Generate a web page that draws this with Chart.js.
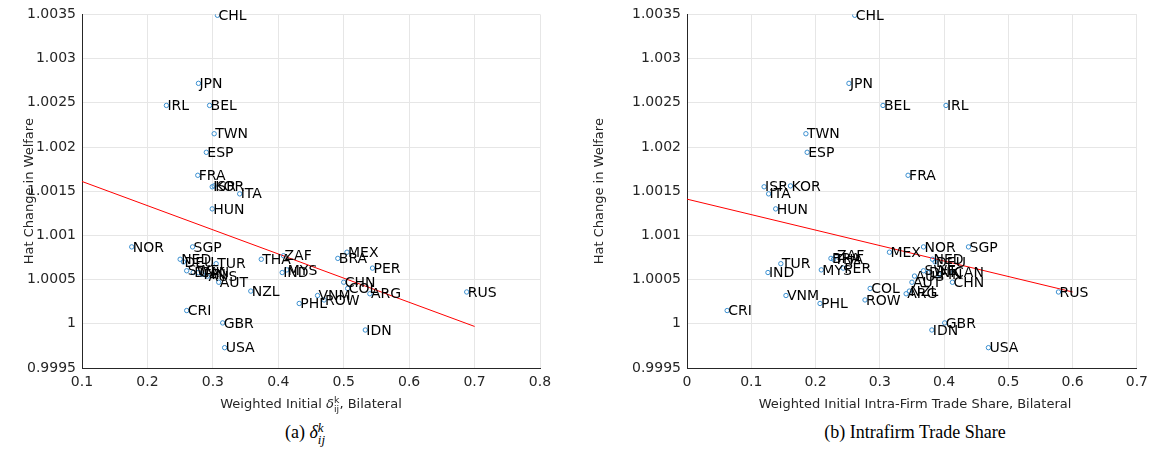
<!DOCTYPE html>
<html>
<head>
<meta charset="utf-8">
<script src="https://cdn.jsdelivr.net/npm/chart.js@4/dist/chart.umd.min.js"></script>
<style>
  body { margin: 0; background: #fff; width: 1154px; height: 457px; overflow: hidden; position: relative; font-family: "DejaVu Sans", sans-serif; }
  .panel { position: absolute; top: 0; width: 577px; height: 420px; }
  #panel-a { left: 0; }
  #panel-b { left: 577px; }
  .xtitle { position: absolute; top: 396px; font-size: 13px; color: #262626; white-space: nowrap; transform: translateX(-50%); line-height: 15px; }
  .caption { position: absolute; top: 421px; font-family: "Liberation Serif", serif; font-size: 18px; color: #000; white-space: nowrap; transform: translateX(-50%); line-height: 22px; }
  .ss { display: inline-block; vertical-align: -0.45em; line-height: 0.95; font-size: 0.72em; text-align: left; }
  .ss span { display: block; }
</style>
</head>
<body>
<div class="panel" id="panel-a"><canvas id="chart-a"></canvas></div>
<div class="panel" id="panel-b"><canvas id="chart-b"></canvas></div>
<div class="xtitle" style="left:311px">Weighted Initial <i>δ</i><span class="ss"><span>k</span><span>ij</span></span>, Bilateral</div>
<div class="xtitle" style="left:915px">Weighted Initial Intra-Firm Trade Share, Bilateral</div>
<div class="caption" style="left:305px">(a) <i>δ</i><span class="ss"><span><i>k</i></span><span><i>ij</i></span></span></div>
<div class="caption" style="left:915px">(b) Intrafirm Trade Share</div>
<script>
// country codes, shared by both panels
const countries = ['CHL','JPN','IRL','BEL','TWN','ESP','FRA','ISR','KOR','ITA','HUN','NOR','SGP','NED','DEU',
  'TUR','THA','ZAF','MEX','BRA','PER','IND','MYS','SWE','DNK','CAN','FIN','AUS','AUT','CHN','COL','ARG','NZL',
  'VNM','ROW','PHL','RUS','CRI','GBR','IDN','USA'];

// hat change in welfare (y, same in both panels)
const welfare = [1.00349,1.00272,1.00247,1.00247,1.00215,1.00194,1.00168,1.00155,1.00156,1.00147,1.00130,1.00087,1.00087,1.00073,1.00070,
  1.00068,1.00073,1.00077,1.00081,1.00074,1.00063,1.00058,1.00061,1.00060,1.00058,1.00058,1.00056,1.00054,1.00047,1.00047,1.00040,1.00034,1.00037,
  1.00032,1.00027,1.00023,1.00036,1.00015,1.00001,0.99993,0.99973];

// (a) weighted initial delta
const deltaShare = [0.307,0.278,0.229,0.295,0.302,0.290,0.277,0.299,0.302,0.341,0.299,0.176,0.269,0.250,0.255,
  0.305,0.374,0.408,0.505,0.491,0.544,0.406,0.413,0.260,0.270,0.278,0.284,0.292,0.309,0.500,0.506,0.540,0.358,
  0.460,0.470,0.432,0.688,0.260,0.315,0.533,0.318];

// (b) weighted initial intra-firm trade share
const intraShare = [0.261,0.252,0.403,0.305,0.185,0.187,0.344,0.120,0.161,0.127,0.138,0.368,0.438,0.382,0.386,
  0.146,0.228,0.232,0.315,0.224,0.243,0.126,0.209,0.368,0.375,0.414,0.392,0.354,0.350,0.413,0.285,0.341,0.346,
  0.154,0.277,0.207,0.578,0.0625,0.401,0.381,0.469];

// fitted lines: [x0, x1], [y0, y1]
const fitDeltaX = [0.1, 0.7];
const fitDeltaY = [1.00161, 0.99997];
const fitIntraX = [0, 0.6];
const fitIntraY = [1.00141, 1.00036];

const yTicks = [0.9995, 1, 1.0005, 1.001, 1.0015, 1.002, 1.0025, 1.003, 1.0035];
const yTickLabels = ['0.9995','1','1.0005','1.001','1.0015','1.002','1.0025','1.003','1.0035'];
const xTicksA = [0.1, 0.2, 0.3, 0.4, 0.5, 0.6, 0.7, 0.8];
const xTicksB = [0, 0.1, 0.2, 0.3, 0.4, 0.5, 0.6, 0.7];

const TICK_FONT = { family: 'DejaVu Sans', size: 14 };
const GRID = '#e6e6e6';
const AXIS = '#262626';

// writes the country code to the right of each marker
const pointLabels = {
  id: 'pointLabels',
  afterDatasetsDraw(chart) {
    const ctx = chart.ctx;
    const meta = chart.getDatasetMeta(0);
    ctx.save();
    ctx.font = '14px "DejaVu Sans"';
    ctx.fillStyle = '#000';
    ctx.textBaseline = 'middle';
    meta.data.forEach((pt, i) => ctx.fillText(countries[i], pt.x + 1, pt.y + 1));
    ctx.restore();
  }
};

function makeChart(id, xs, xTicks, fitX, fitY, opt) {
  const pts = xs.map((x, i) => ({ x, y: welfare[i] }));
  const fit = fitX.map((x, i) => ({ x, y: fitY[i] }));
  return new Chart(document.getElementById(id), {
    type: 'scatter',
    data: {
      datasets: [
        { data: pts, pointRadius: 2.2, pointBorderWidth: 1, pointBorderColor: '#3a8fd0', pointBackgroundColor: 'rgba(0,0,0,0)' },
        { type: 'line', data: fit, borderColor: '#ff0000', borderWidth: 1, pointRadius: 0, fill: false }
      ]
    },
    options: {
      responsive: true,
      maintainAspectRatio: false,
      animation: false,
      events: [],
      layout: { padding: { top: 12, right: opt.padRight, left: 0, bottom: 0 } },
      plugins: { legend: { display: false }, tooltip: { enabled: false } },
      scales: {
        x: {
          type: 'linear', min: xTicks[0], max: xTicks[xTicks.length - 1],
          afterBuildTicks: s => { s.ticks = xTicks.map(v => ({ value: v })); },
          afterFit: s => { s.height = 52; },
          ticks: { font: TICK_FONT, color: AXIS, padding: 6, maxRotation: 0, callback: v => String(v) },
          grid: { color: GRID, drawTicks: false },
          border: { color: AXIS }
        },
        y: {
          type: 'linear', min: 0.9995, max: 1.0035,
          afterBuildTicks: s => { s.ticks = yTicks.map(v => ({ value: v })); },
          afterFit: s => { s.width = opt.yWidth; },
          ticks: { font: TICK_FONT, color: AXIS, padding: 6, callback: (v, i) => yTickLabels[i] },
          grid: { color: GRID, drawTicks: false },
          border: { color: AXIS },
          title: { display: true, text: 'Hat Change in Welfare', color: AXIS,
                   font: { family: 'DejaVu Sans', size: 13 }, padding: { top: opt.titlePad, bottom: 0 } }
        }
      }
    },
    plugins: [pointLabels]
  });
}

makeChart('chart-a', deltaShare, xTicksA, fitDeltaX, fitDeltaY, { yWidth: 82, padRight: 37, titlePad: 22 });
makeChart('chart-b', intraShare, xTicksB, fitIntraX, fitIntraY, { yWidth: 110, padRight: 11, titlePad: 15 });
</script>
</body>
</html>
